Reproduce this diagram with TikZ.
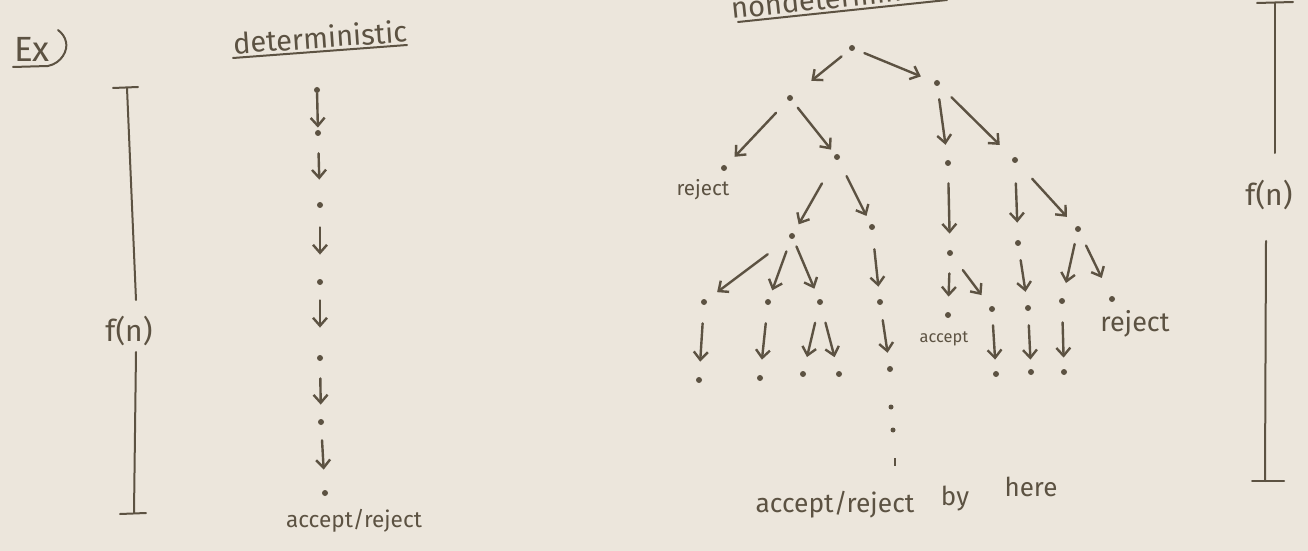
\documentclass[tikz,border=0pt]{standalone}
\usepackage{fontspec}
\setmainfont{Fira Sans}
\usetikzlibrary{arrows.meta}
\definecolor{paper}{HTML}{ECE6DC}
\definecolor{ink}{HTML}{5C5242}
\begin{document}
\begin{tikzpicture}[x=0.5pt,y=-0.5pt,
  dot/.style={circle,fill=ink,inner sep=0pt,minimum size=3pt},
  tickmark/.style={rectangle,fill=ink,inner sep=0pt,minimum width=1pt,minimum height=4pt},
  arr/.style={draw=ink,line width=1.2pt,line cap=round,
    -{Straight Barb[length=4pt,width=7pt]},shorten <=8pt,shorten >=7pt},
  gap/.style 2 args={shorten <=#1,shorten >=#2},
  bar/.style={draw=ink,line width=1pt,line cap=round},
  hand/.style={text=ink,inner sep=0pt},
]
% paper
\fill[paper] (0,0) rectangle (1308,551);
\clip (0,0) rectangle (1308,551);

% ---- heading "Ex)"
\node[hand,font=\fontsize{17.5}{19}\selectfont] (ex) at (32,49) {Ex};
\draw[bar] (13,67) -- (48,66) .. controls (62,63) and (68,50) .. (66,42)
  .. controls (65,37) and (62,33) .. (58,30);

% ---- deterministic machine
\node[hand,font=\fontsize{14.5}{16}\selectfont,rotate=4] (det) at (320,37) {deterministic};
\draw[bar] (233,58) -- (407,45);

\node[dot] (d1) at (317,90) {};
\node[dot] (d2) at (318,133) {};
\node[dot] (d3) at (320,205) {};
\node[dot] (d4) at (320,282) {};
\node[dot] (d5) at (320,358) {};
\node[dot] (d6) at (321,422) {};
\node[dot] (d7) at (325,493) {};
\draw[arr,gap={0pt}{1pt}] (d1) -- (d2);
\draw[arr,gap={8.5pt}{11pt}] (d2) -- (d3);
\draw[arr,gap={9.5pt}{12pt}] (d3) -- (d4);
\draw[arr,gap={7.5pt}{13.5pt}] (d4) -- (d5);
\draw[arr,gap={8.5pt}{7pt}] (d5) -- (d6);
\draw[arr,gap={7.5pt}{10pt}] (d6) -- (d7);
\node[hand,font=\fontsize{11.3}{13}\selectfont] (detout) at (354,521) {accept/reject};

% time bar on the left
\node[hand,font=\fontsize{15}{17}\selectfont] (fnL) at (129,331) {f(n)};
\coordinate (lt) at (127,88);
\coordinate (lb) at (134,513);
\draw[bar] (113,88) -- (138,87);
\draw[bar] (lt) -- (136,300);
\draw[bar] (136,352) -- (lb);
\draw[bar] (120,514) -- (146,513);

% ---- nondeterministic machine
\node[hand,font=\fontsize{14.5}{16}\selectfont,rotate=6] (ndet) at (843,-4) {nondeterministic};
\draw[bar] (738,22) -- (947,0);

% level 0-2
\node[dot] (r)   at (852,48) {};
\node[dot] (a)   at (790,98) {};
\node[dot] (b)   at (937,83) {};
\node[dot] (al)  at (724,168) {};
\node[dot] (ar)  at (837,157) {};
\node[dot] (bl)  at (948,163) {};
\node[dot] (br)  at (1015,160) {};
% level 3
\node[dot] (arl) at (792,236) {};
\node[dot] (arr) at (872,227) {};
\node[dot] (blc) at (950,253) {};
\node[dot] (brc) at (1018,243) {};
\node[dot] (brr) at (1078,229) {};
% level 4
\node[dot] (l1) at (704,302) {};
\node[dot] (l2) at (768,302) {};
\node[dot] (l3) at (820,302) {};
\node[dot] (l4) at (880,302) {};
\node[dot] (l5) at (948,315) {};
\node[dot] (l6) at (992,309) {};
\node[dot] (l7) at (1028,308) {};
\node[dot] (l8) at (1062,301) {};
\node[dot] (l9) at (1112,299) {};
% level 5
\node[dot] (e1) at (699,380) {};
\node[dot] (e2) at (760,378) {};
\node[dot] (e3) at (803,374) {};
\node[dot] (e4) at (839,374) {};
\node[dot] (e5) at (890,369) {};
\node[dot] (e6) at (996,374) {};
\node[dot] (e7) at (1031,372) {};
\node[dot] (e8) at (1064,372) {};
% the branch that keeps going
\node[dot,minimum size=2.5pt] (v1) at (891,407) {};
\node[dot,minimum size=2.5pt] (v2) at (893,430) {};
\node[tickmark] (v3) at (895,462) {};

\draw[arr,gap={5pt}{12pt}]   (r) -- (a);
\draw[arr,gap={5pt}{7pt}]    (r) -- (b);
\draw[arr,gap={8.5pt}{6pt}]  (a) -- (al);
\draw[arr,gap={4.5pt}{3pt}]  (a) -- (ar);
\draw[arr,gap={6.5pt}{7.5pt}] (b) -- (bl);
\draw[arr,gap={8.5pt}{9pt}]  (b) -- (br);
\draw[arr,gap={13.5pt}{5pt}] (ar) -- (arl);
\draw[arr,gap={9pt}{4.5pt}]  (ar) -- (arr);
\draw[arr,gap={8.5pt}{8pt}]  (bl) -- (blc);
\draw[arr,gap={10pt}{8.5pt}] (br) -- (brc);
\draw[arr,gap={11pt}{6.5pt}] (br) -- (brr);
\draw[arr,gap={13.5pt}{6.5pt}] (arl) -- (l1);
\draw[arr,gap={6.5pt}{4.5pt}]  (arl) -- (l2);
\draw[arr,gap={4pt}{5.5pt}]    (arl) -- (l3);
\draw[arr,gap={9.5pt}{6pt}]    (arr) -- (l4);
\draw[arr,gap={8.5pt}{7.5pt}]  (blc) -- (l5);
\draw[arr,gap={9pt}{7pt}]      (blc) -- (l6);
\draw[arr,gap={7pt}{6.5pt}]    (brc) -- (l7);
\draw[arr,gap={6pt}{7.5pt}]    (brr) -- (l8);
\draw[arr,gap={7.5pt}{10pt}]   (brr) -- (l9);
\draw[arr,gap={9pt}{7.5pt}]  (l1) -- (e1);
\draw[arr,gap={9pt}{7.5pt}]  (l2) -- (e2);
\draw[arr,gap={9pt}{7pt}]    (l3) -- (e3);
\draw[arr,gap={9pt}{7pt}]    (l3) -- (e4);
\draw[arr,gap={7.5pt}{6.5pt}] (l4) -- (e5);
\draw[arr,gap={6.5pt}{5.5pt}] (l6) -- (e6);
\draw[arr,gap={7pt}{4.5pt}]  (l7) -- (e7);
\draw[arr,gap={9pt}{5.5pt}]  (l8) -- (e8);

% outcome labels
\node[hand,font=\fontsize{10.3}{12}\selectfont] (rej1) at (703,190) {reject};
\node[hand,font=\fontsize{8.2}{10}\selectfont] (acc1) at (944,339) {accept};
\node[hand,font=\fontsize{13.5}{15}\selectfont] (rej2) at (1135,324) {reject};
\node[hand,font=\fontsize{13.2}{15}\selectfont] (ndout) at (835,505) {accept/reject};
\node[hand,font=\fontsize{13}{15}\selectfont] (by) at (955,499) {by};
\node[hand,font=\fontsize{13}{15}\selectfont] (here) at (1031,487) {here};

% time bar on the right
\node[hand,font=\fontsize{15}{17}\selectfont] (fnR) at (1269,195) {f(n)};
\coordinate (rt) at (1275,3);
\coordinate (rb) at (1265,481);
\draw[bar] (1257,3) -- (1293,2);
\draw[bar] (rt) -- (1275,153);
\draw[bar] (1266,241) -- (rb);
\draw[bar] (1252,481) -- (1284,481);
\end{tikzpicture}
\end{document}
